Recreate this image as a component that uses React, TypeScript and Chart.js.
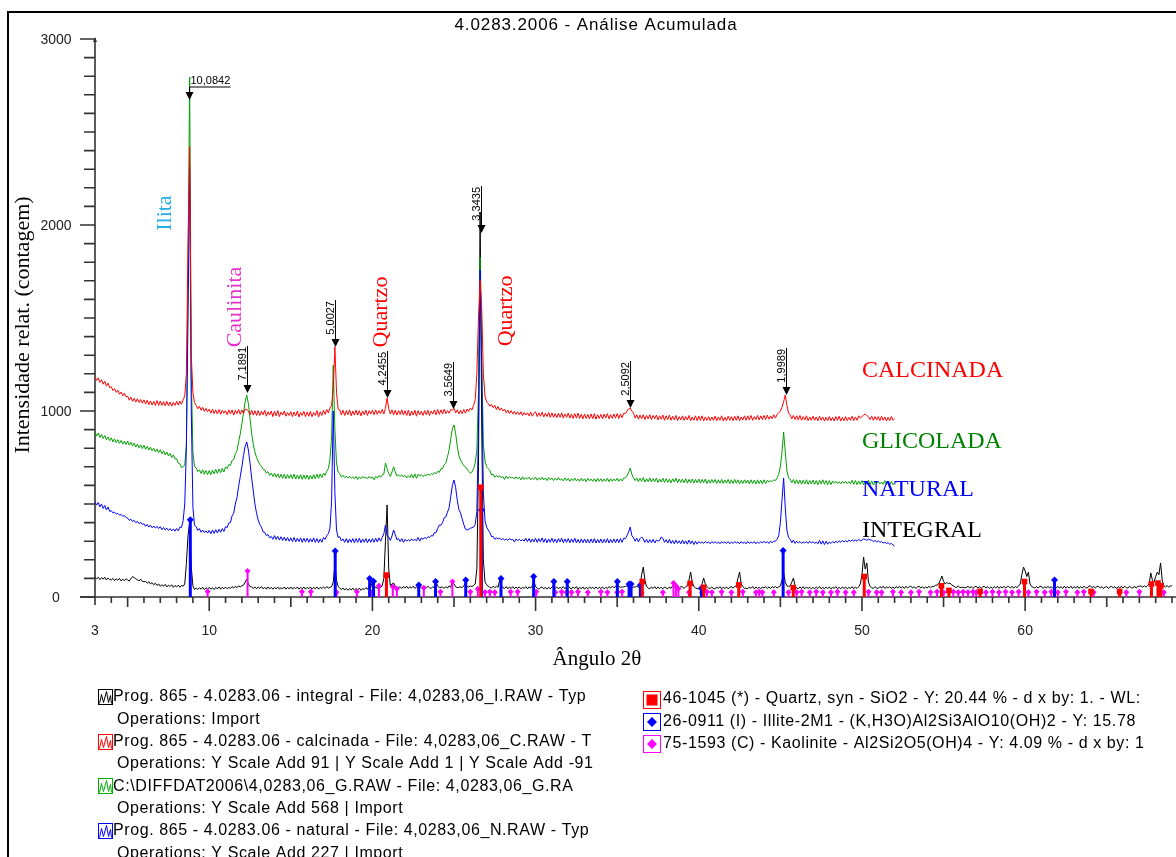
import React, { useEffect, useRef } from 'react';
import { Chart, registerables } from 'chart.js';
Chart.register(...registerables);

const W = 1176;
const H = 857;

const titleText = '4.0283.2006 - Análise Acumulada';
const xTitle = 'Ângulo 2θ';
const yTitle = 'Intensidade relat. (contagem)';
const xTickLabels = [3, 10, 20, 30, 40, 50, 60];
const yTickLabels = [0, 1000, 2000, 3000];

// scan: every series starts at 3.0° 2θ, one reading per 0.1°
const angleStart = 3;
const angleStep = 0.1;

// one row per degree (x.0 ... x.9)
const calcinada = [
  /*3*/ 1183,1164,1178,1154,1168,1144,1160,1134,1150,1126,
  /*4*/ 1130,1110,1120,1100,1112,1090,1102,1082,1096,1076,
  /*5*/ 1080,1058,1074,1052,1068,1048,1066,1046,1062,1042,
  /*6*/ 1060,1038,1058,1034,1054,1032,1052,1030,1056,1030,
  /*7*/ 1054,1030,1050,1028,1052,1028,1048,1026,1046,1030,
  /*8*/ 1052,1032,1054,1036,1060,1080,1200,1900,2420,1300,
  /*9*/ 1100,1045,1030,1012,1026,1004,1020,998,1014,996,
  /*10*/ 1010,988,1010,986,1006,984,1008,982,1004,988,
  /*11*/ 1002,980,1006,984,1006,978,1004,986,1008,982,
  /*12*/ 1006,986,1010,1008,1000,980,1004,978,1002,976,
  /*13*/ 1002,976,998,980,1004,972,996,978,1000,970,
  /*14*/ 998,974,1002,970,994,978,1000,972,992,976,
  /*15*/ 996,970,994,974,1000,968,992,976,998,970,
  /*16*/ 994,972,998,970,992,976,1002,968,996,976,
  /*17*/ 1004,982,1008,990,1016,1030,1120,1345,1100,1010,
  /*18*/ 1006,978,1004,976,1002,980,1006,974,1000,978,
  /*19*/ 1004,978,1002,974,1000,980,1004,976,1002,984,
  /*20*/ 1004,980,1006,982,1002,986,1008,984,1014,1070,
  /*21*/ 1012,984,1006,980,1004,978,1002,982,1006,978,
  /*22*/ 1002,976,1004,974,1000,978,1004,972,1002,980,
  /*23*/ 998,976,1002,980,1004,976,1000,984,1006,980,
  /*24*/ 1008,982,1006,984,1010,986,1002,988,1008,1004,
  /*25*/ 1014,990,1006,984,1004,986,1008,988,1010,998,
  /*26*/ 1016,1006,1030,1060,1200,1500,1704,1550,1200,1080,
  /*27*/ 1050,1040,1026,1036,1018,1030,1008,1024,1004,1016,
  /*28*/ 1000,1010,990,1004,986,1002,984,998,982,996,
  /*29*/ 980,996,976,992,978,990,974,994,972,988,
  /*30*/ 996,970,990,972,994,968,988,970,992,966,
  /*31*/ 990,966,986,964,988,966,990,962,984,966,
  /*32*/ 988,962,984,960,986,962,988,960,982,958,
  /*33*/ 984,960,982,958,984,958,986,956,980,960,
  /*34*/ 982,958,984,962,986,958,980,960,984,962,
  /*35*/ 986,960,984,964,988,986,1000,1012,1016,1000,
  /*36*/ 988,962,980,956,978,958,980,954,976,958,
  /*37*/ 980,954,976,958,978,952,974,956,978,950,
  /*38*/ 974,954,978,950,972,952,976,948,970,952,
  /*39*/ 974,950,970,952,976,948,968,950,974,948,
  /*40*/ 972,950,974,946,968,950,970,948,968,950,
  /*41*/ 972,948,968,950,974,946,966,948,972,950,
  /*42*/ 970,948,972,950,974,948,968,952,974,950,
  /*43*/ 974,952,976,950,970,954,976,952,974,954,
  /*44*/ 976,954,978,956,974,958,980,962,982,990,
  /*45*/ 1000,1020,1050,1086,1030,990,978,958,976,954,
  /*46*/ 974,952,976,950,970,952,974,948,968,950,
  /*47*/ 972,950,968,948,972,950,968,946,966,948,
  /*48*/ 970,948,966,946,970,950,972,946,966,948,
  /*49*/ 970,948,966,950,972,948,968,950,974,962,
  /*50*/ 970,978,984,976,968,954,972,950,970,952,
  /*51*/ 970,948,972,950,968,946,966,948,970,950,
  /*52*/ 957
];

const glicolada = [
  /*3*/ 887,866,882,858,874,852,868,846,860,840,
  /*4*/ 856,834,850,830,846,826,842,822,838,820,
  /*5*/ 838,816,832,812,828,806,822,802,818,798,
  /*6*/ 816,794,810,790,806,786,800,780,796,776,
  /*7*/ 792,770,786,764,780,758,772,750,764,742,
  /*8*/ 744,720,716,696,700,710,820,1700,2795,1200,
  /*9*/ 780,700,694,674,684,664,684,660,680,658,
  /*10*/ 680,658,682,662,686,664,688,668,692,672,
  /*11*/ 700,690,712,708,734,740,770,786,834,876,
  /*12*/ 930,990,1050,1085,1040,960,880,820,780,750,
  /*13*/ 730,712,704,686,684,666,674,654,666,648,
  /*14*/ 666,644,662,640,660,638,660,636,658,638,
  /*15*/ 658,636,660,634,656,636,658,632,656,634,
  /*16*/ 656,632,654,634,658,636,660,638,662,642,
  /*17*/ 666,654,676,690,740,860,1247,900,720,672,
  /*18*/ 664,644,654,642,650,640,648,638,646,636,
  /*19*/ 648,632,646,636,648,640,644,636,648,638,
  /*20*/ 646,630,648,640,652,644,656,660,720,690,
  /*21*/ 664,648,672,700,672,650,656,648,656,646,
  /*22*/ 654,640,652,642,660,640,662,638,660,650,
  /*23*/ 658,648,656,652,662,654,664,658,670,662,
  /*24*/ 676,670,690,690,712,720,754,790,850,905,
  /*25*/ 925,880,810,760,736,720,706,700,688,676,
  /*26*/ 665,672,690,720,790,1100,1828,1300,820,730,
  /*27*/ 700,690,680,656,660,644,654,644,652,640,
  /*28*/ 648,632,650,636,648,640,644,634,646,636,
  /*29*/ 644,630,646,632,642,634,644,630,640,632,
  /*30*/ 644,628,640,630,644,630,640,626,642,630,
  /*31*/ 640,626,638,628,642,628,636,624,640,626,
  /*32*/ 638,622,636,626,640,624,634,622,638,624,
  /*33*/ 636,620,638,624,634,622,636,620,638,622,
  /*34*/ 636,620,634,622,638,620,636,622,634,624,
  /*35*/ 638,622,636,624,640,640,650,670,693,660,
  /*36*/ 640,626,640,620,638,622,642,618,636,620,
  /*37*/ 640,618,636,620,640,616,634,618,638,616,
  /*38*/ 636,616,634,614,636,618,638,614,634,616,
  /*39*/ 634,614,636,612,632,614,634,612,632,614,
  /*40*/ 634,612,632,614,634,610,630,612,632,614,
  /*41*/ 632,610,630,612,632,610,628,612,632,610,
  /*42*/ 630,610,632,612,630,608,628,610,630,612,
  /*43*/ 628,608,630,610,628,608,630,610,628,608,
  /*44*/ 630,610,628,618,626,620,630,626,640,660,
  /*45*/ 700,780,887,780,680,640,634,614,632,610,
  /*46*/ 630,608,628,606,628,608,630,606,626,608,
  /*47*/ 628,606,626,604,628,608,630,606,626,604,
  /*48*/ 626,604,624,612,622,610,620,608,622,612,
  /*49*/ 622,610,620,608,628,606,626,604,624,606,
  /*50*/ 626,604,624,606,628,604,624,602,622,610,
  /*51*/ 620,608,618,606,626,604,624,602,622,604,
  /*52*/ 613
];

const natural = [
  /*3*/ 511,494,508,484,500,476,492,468,484,460,
  /*4*/ 464,452,456,446,450,440,444,434,438,428,
  /*5*/ 424,412,418,406,412,400,406,394,402,390,
  /*6*/ 394,380,390,376,386,372,382,370,380,368,
  /*7*/ 378,362,374,360,370,358,368,356,366,354,
  /*8*/ 368,356,376,374,410,500,800,1500,2306,1000,
  /*9*/ 480,385,378,358,368,348,360,346,356,344,
  /*10*/ 358,340,360,342,362,344,364,348,368,352,
  /*11*/ 378,374,398,400,436,450,500,534,594,646,
  /*12*/ 700,760,810,833,790,720,640,570,500,450,
  /*13*/ 414,390,376,350,348,330,336,318,326,310,
  /*14*/ 330,310,326,306,324,304,322,302,320,300,
  /*15*/ 318,298,320,296,316,298,318,294,316,296,
  /*16*/ 316,294,314,296,318,294,314,292,312,294,
  /*17*/ 320,310,330,340,370,520,1000,560,360,320,
  /*18*/ 324,302,312,294,314,292,312,294,314,292,
  /*19*/ 314,294,316,292,312,294,314,292,312,294,
  /*20*/ 314,294,316,296,318,300,320,340,387,330,
  /*21*/ 322,304,328,360,336,308,314,298,314,294,
  /*22*/ 310,300,308,300,312,304,310,302,320,300,
  /*23*/ 318,310,320,314,324,320,330,328,346,346,
  /*24*/ 368,387,386,400,426,430,456,480,540,600,
  /*25*/ 629,590,520,470,452,420,390,365,360,364,
  /*26*/ 370,372,376,390,460,900,1758,1200,560,410,
  /*27*/ 376,360,346,324,326,310,318,312,316,308,
  /*28*/ 314,306,312,304,314,308,310,296,312,304,
  /*29*/ 310,302,308,300,316,298,314,294,312,296,
  /*30*/ 316,294,314,296,318,294,314,292,312,294,
  /*31*/ 316,294,312,292,314,296,316,292,312,294,
  /*32*/ 314,292,312,294,316,292,310,290,312,292,
  /*33*/ 312,292,310,290,312,292,314,290,310,292,
  /*34*/ 312,290,310,292,314,290,310,292,312,292,
  /*35*/ 312,292,314,294,316,314,330,350,376,330,
  /*36*/ 318,300,316,296,314,323,312,294,310,292,
  /*37*/ 308,292,310,290,306,300,304,323,316,294,
  /*38*/ 308,290,310,288,304,286,306,288,302,286,
  /*39*/ 306,286,302,284,306,286,302,282,300,284,
  /*40*/ 298,290,296,288,298,290,296,286,298,290,
  /*41*/ 298,288,296,286,298,290,296,288,298,286,
  /*42*/ 296,288,298,290,296,286,298,288,296,286,
  /*43*/ 298,288,296,290,298,286,296,288,298,290,
  /*44*/ 300,290,298,288,300,292,300,300,310,330,
  /*45*/ 400,520,640,480,360,320,310,292,306,288,
  /*46*/ 300,290,298,288,296,290,298,288,300,290,
  /*47*/ 298,288,296,286,304,284,302,282,300,284,
  /*48*/ 296,288,298,290,300,292,302,294,304,296,
  /*49*/ 304,296,306,298,308,300,306,300,310,302,
  /*50*/ 306,312,310,304,312,306,306,298,304,296,
  /*51*/ 302,294,298,290,294,288,292,284,288,280,
  /*52*/ 274
];

const integral = [
  /*3*/ 107,98,106,94,104,96,106,92,102,94,
  /*4*/ 92,100,88,98,90,100,86,96,88,98,
  /*5*/ 92,86,98,110,104,98,92,86,96,84,
  /*6*/ 82,84,74,82,70,78,66,74,62,70,
  /*7*/ 58,66,58,68,54,64,56,66,52,62,
  /*8*/ 54,64,52,62,58,70,180,330,400,160,
  /*9*/ 60,40,48,40,50,42,52,40,50,42,
  /*10*/ 52,42,50,40,52,44,54,42,52,44,
  /*11*/ 54,44,52,46,56,48,58,50,60,54,
  /*12*/ 60,64,80,95,70,56,54,46,54,44,
  /*13*/ 54,46,56,44,52,42,54,44,52,42,
  /*14*/ 52,44,54,42,50,44,54,42,52,44,
  /*15*/ 54,42,52,44,54,42,52,44,54,42,
  /*16*/ 52,44,54,42,52,44,54,42,52,46,
  /*17*/ 54,46,56,48,52,56,80,172,90,56,
  /*18*/ 48,40,48,38,46,36,46,38,48,36,
  /*19*/ 46,38,48,36,46,40,50,42,60,81,
  /*20*/ 50,44,54,46,58,50,60,100,300,495,
  /*21*/ 150,60,70,75,58,50,52,54,46,56,
  /*22*/ 48,58,46,56,48,58,46,54,48,58,
  /*23*/ 50,46,56,48,58,50,46,56,48,81,
  /*24*/ 60,50,52,54,46,56,48,60,52,81,
  /*25*/ 70,55,50,52,54,50,60,75,56,54,
  /*26*/ 60,56,62,70,150,700,2070,900,200,80,
  /*27*/ 66,58,52,48,58,50,58,52,91,60,
  /*28*/ 50,46,56,44,54,46,56,44,54,46,
  /*29*/ 54,44,52,46,56,44,54,48,60,81,
  /*30*/ 56,48,42,50,54,44,52,42,52,44,
  /*31*/ 54,60,46,54,44,52,46,56,44,54,
  /*32*/ 60,48,44,54,46,56,42,52,44,54,
  /*33*/ 42,52,44,54,46,52,44,54,44,52,
  /*34*/ 46,54,44,52,46,56,48,58,50,56,
  /*35*/ 70,58,52,54,54,57,60,56,54,48,
  /*36*/ 54,53,58,52,60,120,161,90,56,48,
  /*37*/ 44,54,46,56,44,54,46,52,44,54,
  /*38*/ 48,44,54,46,60,56,46,54,48,56,
  /*39*/ 54,46,56,60,90,134,80,56,48,46,
  /*40*/ 44,52,70,102,70,56,48,46,54,44,
  /*41*/ 44,54,46,56,44,52,46,54,44,52,
  /*42*/ 55,48,56,60,100,134,70,56,48,46,
  /*43*/ 44,54,46,56,44,54,46,52,44,54,
  /*44*/ 48,56,46,54,46,56,50,56,48,55,
  /*45*/ 60,90,129,80,60,56,60,80,102,60,
  /*46*/ 48,44,54,46,56,44,54,46,52,44,
  /*47*/ 52,44,54,46,56,44,52,44,54,46,
  /*48*/ 54,44,52,46,56,44,52,44,54,46,
  /*49*/ 54,44,52,46,56,44,54,46,55,70,
  /*50*/ 120,215,150,183,80,56,50,46,56,48,
  /*51*/ 46,56,48,58,46,54,48,56,46,54,
  /*52*/ 46,56,48,58,48,56,46,58,48,56,
  /*53*/ 58,48,56,46,54,58,48,56,46,54,
  /*54*/ 48,58,50,57,56,62,64,70,90,113,
  /*55*/ 85,70,78,72,75,65,60,54,50,60,
  /*56*/ 50,52,52,50,50,58,48,56,46,54,
  /*57*/ 58,48,56,46,54,58,48,56,46,54,
  /*58*/ 46,56,48,58,46,56,48,58,48,56,
  /*59*/ 56,48,58,48,56,50,60,70,120,161,
  /*60*/ 140,110,134,70,56,52,48,56,48,58,
  /*61*/ 56,46,56,48,58,48,56,46,56,48,
  /*62*/ 58,48,56,46,58,48,56,48,58,46,
  /*63*/ 56,48,58,46,56,48,58,50,48,58,
  /*64*/ 60,50,58,48,56,58,48,56,46,54,
  /*65*/ 56,46,54,58,48,56,46,56,48,58,
  /*66*/ 48,58,50,48,58,50,48,58,48,56,
  /*67*/ 58,60,52,60,54,62,70,129,90,80,
  /*68*/ 110,134,120,183,90,60,54,62,52,60,
  /*69*/ 60
];

type P = [number, number];

// reference patterns: [2θ, stick height]
const quartzSticks: P[] = [
  [20.86,118],[26.64,590],[36.54,83],[39.47,73],[40.30,52],[42.45,65],[45.79,50],[50.14,110],[54.87,60],
  [55.33,35],[57.24,30],[59.96,83],[64.04,30],[65.79,30],[67.74,70],[68.14,75],[68.32,60]
];

const illiteSticks: P[] = [
  [8.84,415],[17.72,247],[19.83,100],[20.07,85],[22.84,65],[23.87,83],[25.72,91],[26.68,468],[27.88,100],
  [29.88,110],[31.12,83],[31.94,83],[35.01,83],[35.73,70],[35.85,70],[36.42,65],[40.16,47],[45.17,250],[61.8,91]
];

const kaoliniteSticks: P[] = [
  [9.9,30],[12.35,140],[15.68,28],[16.23,28],[17.8,25],[19.05,28],[19.9,25],[20.4,60],[21.25,55],[21.5,45],
  [23.15,50],[24.17,28],[24.9,83],[26.0,28],[26.46,43],[26.9,25],[27.2,28],[27.5,25],[28.47,28],[28.9,28],
  [30.04,28],[31.2,25],[31.6,28],[31.9,25],[32.2,25],[32.6,28],[33.2,25],[34.0,28],[34.4,25],[35.0,25],
  [35.3,28],[36.5,25],[37.8,25],[38.45,75],[38.6,60],[38.75,45],[39.4,25],[40.2,25],[40.5,28],[40.8,25],
  [41.4,28],[42.0,25],[42.7,28],[43.5,25],[43.7,28],[43.9,25],[44.6,25],[45.5,25],[46.0,25],[46.3,28],
  [46.8,25],[47.2,28],[47.6,25],[48.1,25],[48.5,28],[49.0,25],[49.5,25],[50.4,28],[50.9,25],[51.2,25],
  [51.9,28],[52.4,25],[53.0,25],[53.5,28],[54.2,25],[54.6,28],[55.0,25],[55.6,28],[55.9,25],[56.2,28],
  [56.5,25],[56.8,28],[57.0,25],[57.6,25],[58.0,28],[58.4,25],[58.8,28],[59.2,25],[59.6,28],[60.2,25],
  [60.7,28],[61.2,25],[61.6,28],[62.0,25],[62.5,28],[63.2,25],[63.6,28],[64.2,25],[66.2,25],[67.0,28],[68.5,25]
];

const peakLabels = [
  { text: '10,0842', x: 8.76, y: 2672 },
  { text: '7,1891', x: 12.30, y: 1097 },
  { text: '5,0027', x: 17.72, y: 1344 },
  { text: '4,2455', x: 20.9, y: 1070 },
  { text: '3,5649', x: 24.96, y: 1011 },
  { text: '3,3435', x: 26.64, y: 1957 },
  { text: '2,5092', x: 35.76, y: 1016 },
  { text: '1,9989', x: 45.34, y: 1086 },
];

const phaseLabels = [
  { text: 'Ilita', x: 7.3, y: 2064, color: '#22aee8' },
  { text: 'Caulinita', x: 11.59, y: 1559, color: '#e632c8' },
  { text: 'Quartzo', x: 20.57, y: 1532, color: '#ff0000' },
  { text: 'Quartzo', x: 28.2, y: 1538, color: '#ff0000' },
];

const sampleLabels = [
  { text: 'CALCINADA', x: 50.0, y: 1220, color: '#ff0000' },
  { text: 'GLICOLADA', x: 50.0, y: 839, color: '#008000' },
  { text: 'NATURAL', x: 50.0, y: 581, color: '#0000ff' },
  { text: 'INTEGRAL', x: 50.0, y: 360, color: '#000000' },
];

const legendLeft: { text: string; icon: string | null }[] = [
  { text: 'Prog. 865 - 4.0283.06 - integral - File: 4,0283,06_I.RAW - Typ', icon: '#000000' },
  { text: 'Operations: Import', icon: null },
  { text: 'Prog. 865 - 4.0283.06 - calcinada - File: 4,0283,06_C.RAW - T', icon: '#ff0000' },
  { text: 'Operations: Y Scale Add 91 | Y Scale Add 1 | Y Scale Add -91', icon: null },
  { text: 'C:\\DIFFDAT2006\\4,0283,06_G.RAW - File: 4,0283,06_G.RA', icon: '#00b000' },
  { text: 'Operations: Y Scale Add 568 | Import', icon: null },
  { text: 'Prog. 865 - 4.0283.06 - natural - File: 4,0283,06_N.RAW - Typ', icon: '#0000ff' },
  { text: 'Operations: Y Scale Add 227 | Import', icon: null },
];

const legendRight = [
  { text: '46-1045 (*) - Quartz, syn - SiO2 - Y: 20.44 % - d x by: 1. - WL:', color: '#ff0000', shape: 'square' },
  { text: '26-0911 (I) - Illite-2M1 - (K,H3O)Al2Si3AlO10(OH)2 - Y: 15.78', color: '#0000ff', shape: 'diamond' },
  { text: '75-1593 (C) - Kaolinite - Al2Si2O5(OH)4 - Y: 4.09 % - d x by: 1', color: '#ff00ff', shape: 'diamond' },
];

const SANS = '"Liberation Sans", Arial, sans-serif';
const SERIF = '"Liberation Serif", "Times New Roman", serif';

function scanToXY(values: number[]) {
  return values.map((y, i) => ({ x: Math.round((angleStart + i * angleStep) * 10) / 10, y }));
}
function toSticks(arr: P[]) {
  const out: { x: number; y: number | null }[] = [];
  arr.forEach(([x, h]) => {
    out.push({ x, y: 0 }, { x, y: h }, { x, y: null });
  });
  return out;
}

const decor = {
  id: 'decor',
  beforeDatasetsDraw(chart: any) {
    const { ctx, scales } = chart;
    const xs = scales.x, ys = scales.y;
    ctx.save();
    ctx.strokeStyle = '#333';
    ctx.lineWidth = 1.6;
    const y0 = ys.getPixelForValue(0);
    const x0 = xs.getPixelForValue(3);
    ctx.beginPath();
    ctx.moveTo(80, y0);
    ctx.lineTo(W, y0);
    ctx.moveTo(x0, y0);
    ctx.lineTo(x0, ys.getPixelForValue(3000) - 1);
    ctx.stroke();
    const yt = ys.getPixelForValue(3000);
    ctx.fillStyle = '#333';
    ctx.beginPath();
    ctx.moveTo(x0, yt - 2);
    ctx.lineTo(x0 - 2, yt + 3);
    ctx.lineTo(x0 + 2, yt + 3);
    ctx.closePath();
    ctx.fill();
    ctx.beginPath();
    for (let v = 0; v <= 3000; v += 100) {
      const py = ys.getPixelForValue(v);
      const len = v % 1000 === 0 ? 15 : 11;
      ctx.moveTo(x0 - len, py);
      ctx.lineTo(x0, py);
    }
    for (let v = 3; v <= 69; v++) {
      const px = xs.getPixelForValue(v);
      const len = v % 10 === 0 ? 14 : v % 5 === 0 ? 10 : v === 3 ? 8 : 6;
      ctx.moveTo(px, y0);
      ctx.lineTo(px, y0 + len);
    }
    ctx.stroke();
    ctx.fillStyle = '#222';
    ctx.font = '14px ' + SANS;
    ctx.textAlign = 'center';
    ctx.textBaseline = 'middle';
    yTickLabels.forEach((v) => {
      ctx.fillText(String(v), 56, ys.getPixelForValue(v) + 1);
    });
    xTickLabels.forEach((v) => {
      ctx.fillText(String(v), xs.getPixelForValue(v), 631);
    });
    ctx.fillStyle = '#000';
    ctx.font = '21px ' + SERIF;
    ctx.fillText(xTitle, 597, 659);
    ctx.save();
    ctx.translate(23, 325);
    ctx.rotate(-Math.PI / 2);
    ctx.font = '22px ' + SERIF;
    ctx.fillText(yTitle, 0, 0);
    ctx.restore();
    ctx.restore();
  },
  afterDatasetsDraw(chart: any) {
    const { ctx, scales } = chart;
    const xs = scales.x, ys = scales.y;
    ctx.save();
    ctx.strokeStyle = '#000';
    ctx.fillStyle = '#000';
    ctx.lineWidth = 1;
    ctx.font = '11px ' + SANS;
    peakLabels.forEach((p, i) => {
      const px = Math.round(xs.getPixelForValue(p.x)) + 0.5;
      const py = ys.getPixelForValue(p.y);
      let top: number;
      if (i === 0) {
        top = py - 13;
        ctx.beginPath();
        ctx.moveTo(px, top);
        ctx.lineTo(px, py - 6);
        ctx.moveTo(px, top);
        ctx.lineTo(px + 41, top);
        ctx.stroke();
        ctx.textAlign = 'left';
        ctx.textBaseline = 'alphabetic';
        ctx.fillText(p.text, px + 1, top - 3);
      } else {
        top = py - 47;
        ctx.beginPath();
        ctx.moveTo(px, top);
        ctx.lineTo(px, py - 6);
        ctx.stroke();
        ctx.save();
        ctx.translate(px - 1.5, top + 1);
        ctx.rotate(-Math.PI / 2);
        ctx.textAlign = 'right';
        ctx.textBaseline = 'alphabetic';
        ctx.fillText(p.text, 0, 0);
        ctx.restore();
      }
      ctx.beginPath();
      ctx.moveTo(px, py);
      ctx.lineTo(px - 4, py - 8);
      ctx.lineTo(px + 4, py - 8);
      ctx.closePath();
      ctx.fill();
    });
    ctx.font = '22px ' + SERIF;
    ctx.textAlign = 'center';
    ctx.textBaseline = 'middle';
    phaseLabels.forEach((l) => {
      ctx.save();
      ctx.translate(xs.getPixelForValue(l.x), ys.getPixelForValue(l.y));
      ctx.rotate(-Math.PI / 2);
      ctx.fillStyle = l.color;
      ctx.fillText(l.text, 0, 0);
      ctx.restore();
    });
    ctx.font = '24px ' + SERIF;
    ctx.textAlign = 'left';
    sampleLabels.forEach((l) => {
      ctx.fillStyle = l.color;
      ctx.fillText(l.text, xs.getPixelForValue(l.x), ys.getPixelForValue(l.y) + 1);
    });
    ctx.restore();
  },
  afterDraw(chart: any) {
    const { ctx } = chart;
    ctx.save();
    ctx.strokeStyle = '#000';
    ctx.lineWidth = 2;
    ctx.beginPath();
    ctx.moveTo(8, H);
    ctx.lineTo(8, 12);
    ctx.lineTo(W, 12);
    ctx.stroke();
    ctx.fillStyle = '#000';
    ctx.font = '17px ' + SANS;
    (ctx as any).letterSpacing = '0.9px';
    ctx.textAlign = 'center';
    ctx.textBaseline = 'middle';
    ctx.fillText(titleText, 596, 25);
    ctx.font = '16px ' + SANS;
    (ctx as any).letterSpacing = '0.6px';
    ctx.textAlign = 'left';
    legendLeft.forEach((l, i) => {
      const cy = 697 + i * 22.3;
      if (l.icon) {
        const bx = 98.5, by = Math.round(cy - 8) + 0.5, bw = 14, bh = 15;
        ctx.strokeStyle = l.icon;
        ctx.lineWidth = 1;
        ctx.strokeRect(bx, by, bw, bh);
        ctx.beginPath();
        ctx.moveTo(bx + 1, by + bh - 1);
        ctx.lineTo(bx + 3, by + 5);
        ctx.lineTo(bx + 5, by + bh - 2);
        ctx.lineTo(bx + 8, by + 2);
        ctx.lineTo(bx + 10, by + bh - 2);
        ctx.lineTo(bx + 12, by + 6);
        ctx.lineTo(bx + 13, by + bh - 1);
        ctx.stroke();
        ctx.fillStyle = '#000';
        ctx.fillText(l.text, 113, cy);
      } else {
        ctx.fillStyle = '#000';
        ctx.fillText(l.text, 117, cy);
      }
    });
    legendRight.forEach((l, i) => {
      const cy = 699 + i * 22.3;
      const bx = 643.5, by = Math.round(cy - 8.5) + 0.5, bs = 17;
      ctx.strokeStyle = l.color;
      ctx.lineWidth = 1;
      ctx.strokeRect(bx, by, bs, bs);
      ctx.fillStyle = l.color;
      const cx = bx + bs / 2, cyy = by + bs / 2;
      if (l.shape === 'square') {
        ctx.fillRect(cx - 5.5, cyy - 5.5, 11, 11);
      } else {
        ctx.beginPath();
        ctx.moveTo(cx, cyy - 5);
        ctx.lineTo(cx + 5, cyy);
        ctx.lineTo(cx, cyy + 5);
        ctx.lineTo(cx - 5, cyy);
        ctx.closePath();
        ctx.fill();
      }
      ctx.fillStyle = '#000';
      ctx.fillText(l.text, 663, cy);
    });
    ctx.restore();
  },
};

export default function App() {
  const ref = useRef<HTMLCanvasElement | null>(null);
  useEffect(() => {
    if (!ref.current) return;
    const traceBase = { type: 'line', showLine: true, pointRadius: 0, borderWidth: 1, tension: 0, fill: false };
    const stickBase = (color: string, width: number, style: string, r: number, order: number) => ({
      type: 'line',
      showLine: true,
      spanGaps: false,
      borderColor: color,
      backgroundColor: color,
      borderWidth: width,
      pointStyle: style,
      pointBorderWidth: 0,
      pointRadius: (c: any) => (c.raw && c.raw.y > 0 ? r : 0),
      order,
    });
    const chart = new Chart(ref.current, {
      type: 'scatter',
      data: {
        datasets: [
          { ...traceBase, label: 'integral', data: scanToXY(integral), borderColor: '#000000', order: 7 },
          { ...traceBase, label: 'glicolada', data: scanToXY(glicolada), borderColor: '#00a000', order: 6 },
          { ...traceBase, label: 'natural', data: scanToXY(natural), borderColor: '#0000ff', order: 5 },
          { ...traceBase, label: 'calcinada', data: scanToXY(calcinada), borderColor: '#ff0000', order: 4 },
          { ...stickBase('#ff00ff', 2, 'rectRot', 3, 3), label: 'Kaolinite', data: toSticks(kaoliniteSticks) },
          { ...stickBase('#0000ff', 3, 'rectRot', 3.5, 2), label: 'Illite', data: toSticks(illiteSticks) },
          { ...stickBase('#ff0000', 3, 'rect', 4, 1), label: 'Quartz', data: toSticks(quartzSticks) },
        ] as any,
      },
      options: {
        animation: false,
        responsive: false,
        devicePixelRatio: 1,
        layout: { padding: { left: 95, right: 4, top: 39, bottom: 260 } },
        scales: {
          x: { type: 'linear', min: 3, max: 69, display: false },
          y: { type: 'linear', min: 0, max: 3000, display: false },
        },
        plugins: { legend: { display: false }, tooltip: { enabled: false }, title: { display: false } },
        events: [],
      } as any,
      plugins: [decor as any],
    });
    return () => chart.destroy();
  }, []);
  return (
    <div style={{ position: 'fixed', left: 0, top: 0, width: W, height: H, background: '#fff' }}>
      <canvas ref={ref} width={W} height={H} style={{ display: 'block', width: W, height: H }} />
    </div>
  );
}
